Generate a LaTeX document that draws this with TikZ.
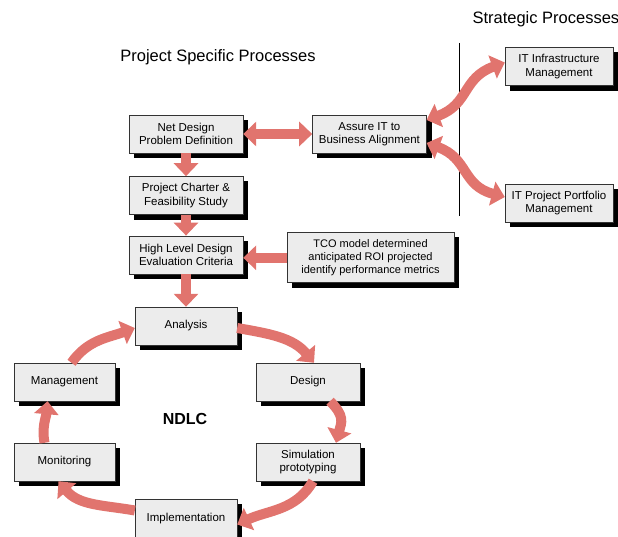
\documentclass[tikz,border=0pt]{standalone}
\usepackage{fontspec}
\setmainfont{Liberation Sans}
\usepackage{tikz}
\usetikzlibrary{arrows.meta,positioning,backgrounds,calc}
\definecolor{salmon}{RGB}{225,116,110}
\definecolor{boxgray}{RGB}{236,236,236}
\tikzstyle{pbox}=[rectangle, draw=black!80, thin, fill=boxgray, align=center, font=\fontsize{11.5}{13.5}\selectfont, minimum width=114pt, minimum height=38pt, inner sep=2pt]
\tikzstyle{fat}=[draw=salmon, line width=10pt, -{Triangle[width=24pt,length=13pt]}]
\tikzstyle{fatboth}=[draw=salmon, line width=10pt, {Triangle[width=24pt,length=13pt]}-{Triangle[width=24pt,length=13pt]}]

\begin{document}
\begin{tikzpicture}[x=1pt,y=1pt,node distance=23pt and 69pt]
			\useasboundingbox (0,0) rectangle (618,-537);

			\node[font=\fontsize{16.5}{18}\selectfont] (lblproj) at (218,-57) {Project Specific Processes};
			\node[font=\fontsize{16.5}{18}\selectfont,anchor=west] (lblstrat) at (469,-19) {Strategic Processes};
			\draw[thin] (459,-43) -- (459,-216);

			\node[pbox] (netdesign) at (186,-134) {Net Design\\Problem Definition};
			\node[pbox,right=of netdesign] (assure) {Assure IT to\\Business Alignment};
			\node[pbox,below=of netdesign] (charter) {Project Charter \&\\Feasibility Study};
			\node[pbox,below=21pt of charter] (hld) {High Level Design\\Evaluation Criteria};
			\node[pbox,minimum width=167pt,minimum height=50pt,font=\fontsize{11}{13}\selectfont] (tco) at (370.5,-257.5) {TCO model determined\\anticipated ROI projected\\identify performance metrics};
			\node[pbox,minimum width=108pt] (infra) at (559,-66.5) {IT Infrastructure\\Management};
			\node[pbox,minimum width=108pt] (portfolio) at (559,-203) {IT Project Portfolio\\Management};

			% NDLC cycle
			\node[pbox,minimum width=102pt] (analysis) at (186,-326) {Analysis};
			\node[pbox,minimum width=104pt] (design) at (308,-382) {Design};
			\node[pbox,minimum width=104pt] (sim) at (308,-462) {Simulation\\prototyping};
			\node[pbox,minimum width=102pt] (impl) at (186,-518.5) {Implementation};
			\node[pbox,minimum width=101pt] (monitor) at (64.5,-462) {Monitoring};
			\node[pbox,minimum width=101pt] (mgmt) at (64.5,-382) {Management};
			\node[font=\fontsize{16}{18}\selectfont\bfseries] (ndlc) at (185,-419) {NDLC};

			% shadows
			\begin{pgfonlayer}{background}
				\foreach \b in {netdesign,assure,charter,hld,tco,infra,portfolio,analysis,design,sim,impl,monitor,mgmt}
					\fill[black] ([shift={(5pt,-5pt)}]\b.south west) rectangle ([shift={(5pt,-5pt)}]\b.north east);
			\end{pgfonlayer}

			\draw[fatboth] (netdesign.east) -- (assure.west);
			\draw[fat] (netdesign.south) -- (charter.north);
			\draw[fat] (charter.south) -- (hld.north);
			\draw[fat] (hld.south) -- (analysis.north);
			\draw[fat] (tco.west |- hld.east) ++(0,-3) -- ([yshift=-3pt]hld.east);

			\draw[fatboth] ([yshift=14pt]assure.east) to[out=20,in=200,looseness=1.2] ([yshift=4pt]infra.west);
			\draw[fatboth] ([yshift=-9pt]assure.east) to[out=-20,in=165,looseness=1.2] ([yshift=6pt]portfolio.west);

			\draw[fat] ([yshift=-2pt]analysis.east) to[out=-10,in=130] ([xshift=6pt]design.north);
			\draw[fat] ([xshift=22pt]design.south) to[out=-45,in=75,looseness=1.3] ([xshift=28pt]sim.north);
			\draw[fat] ([xshift=5pt]sim.south) to[out=-120,in=25] ([yshift=-6pt]impl.east);
			\draw[fat] ([yshift=8pt]impl.west) to[out=170,in=-50] ([xshift=-6pt]monitor.south);
			\draw[fat] ([xshift=-20pt]monitor.north) to[out=100,in=-95] ([xshift=-17pt]mgmt.south);
			\draw[fat] ([xshift=7pt]mgmt.north) to[out=55,in=200] ([yshift=-2pt]analysis.west);
		\end{tikzpicture}
\end{document}
